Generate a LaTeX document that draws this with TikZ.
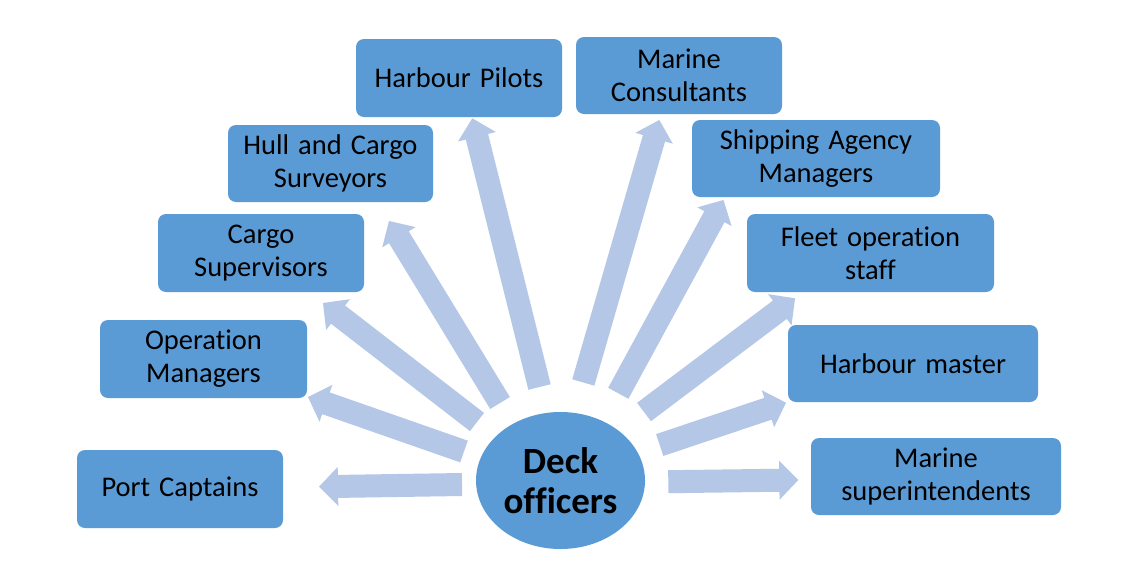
\documentclass[tikz,border=0pt]{standalone}
\usepackage{fontspec}
\setmainfont{Carlito}[WordSpace=1.4, Ligatures=NoCommon]
\usetikzlibrary{calc,shapes.geometric}
\definecolor{boxc}{HTML}{5B9BD5}
\definecolor{arrowc}{HTML}{B4C7E7}
\tikzset{
  box/.style={rectangle, rounded corners=8pt, fill=boxc, inner sep=0pt, align=center,
    font=\fontsize{28.5}{33}\selectfont, text=black},
  deckstyle/.style={ellipse, fill=boxc, inner sep=0pt, minimum width=169pt, minimum height=137pt,
    align=center, font=\fontsize{37}{40}\selectfont\bfseries, text=black},
  blockarrow/.style={fill=arrowc}
}
\newcommand{\deckarrow}[2]{%
  \coordinate (hb) at ($(#2)!19pt!(#1)$);
  \fill[blockarrow] ($(#1)!11.5pt!90:(#2)$) -- ($(hb)!11.5pt!90:(#2)$) -- ($(hb)!19.5pt!90:(#2)$)
    -- (#2) -- ($(hb)!19.5pt!-90:(#2)$) -- ($(hb)!11.5pt!-90:(#2)$) -- ($(#1)!11.5pt!-90:(#2)$) -- cycle;}
\begin{document}
\begin{tikzpicture}[x=1pt,y=-1pt]
\useasboundingbox (0,0) rectangle (1139,582);
\fill[white] (0,0) rectangle (1139,582);

\node[deckstyle] (deck) at (560.5,480.5) {Deck\\officers};

\node[box, minimum width=206pt, minimum height=78pt] (pc) at (180,489) {Port Captains};
\node[box, minimum width=207pt, minimum height=78pt] (om) at (203.5,359) {Operation\\Managers};
\node[box, minimum width=206pt, minimum height=78pt] (cs) at (261,253) {Cargo\\Supervisors};
\node[box, minimum width=205pt, minimum height=77pt] (hc) at (330.5,163.5) {Hull and Cargo\\Surveyors};
\node[box, minimum width=206pt, minimum height=78pt] (hp) at (459,78) {Harbour Pilots};
\node[box, minimum width=206pt, minimum height=77pt] (mc) at (679,75.5) {Marine\\Consultants};
\node[box, minimum width=248pt, minimum height=77pt] (sa) at (816,158.5) {Shipping Agency\\Managers};
\node[box, minimum width=247pt, minimum height=78pt] (fo) at (870.5,253) {Fleet operation\\staff};
\node[box, minimum width=250pt, minimum height=77pt] (hm) at (913,363.5) {Harbour master};
\node[box, minimum width=250pt, minimum height=77pt] (ms) at (936,476.5) {Marine\\superintendents};

\coordinate (s1) at (462,484.5);   \coordinate (e1) at (319,486.7);
\coordinate (s2) at (464,451.5);   \coordinate (e2) at (308,397);
\coordinate (s3) at (477,422);     \coordinate (e3) at (323,303);
\coordinate (s4) at (500,403);     \coordinate (e4) at (389,221);
\coordinate (s5) at (539.5,387);   \coordinate (e5) at (472.3,118.3);
\coordinate (s6) at (583.3,382.5); \coordinate (e6) at (659.3,120);
\coordinate (s7) at (618.3,393.3); \coordinate (e7) at (723.5,200);
\coordinate (s8) at (644,412);     \coordinate (e8) at (795,298.3);
\coordinate (s9) at (659.7,445);   \coordinate (e9) at (786,402.7);
\coordinate (s10) at (668.3,481.7); \coordinate (e10) at (798.3,480);

\deckarrow{s1}{e1}
\deckarrow{s2}{e2}
\deckarrow{s3}{e3}
\deckarrow{s4}{e4}
\deckarrow{s5}{e5}
\deckarrow{s6}{e6}
\deckarrow{s7}{e7}
\deckarrow{s8}{e8}
\deckarrow{s9}{e9}
\deckarrow{s10}{e10}
\end{tikzpicture}
\end{document}
